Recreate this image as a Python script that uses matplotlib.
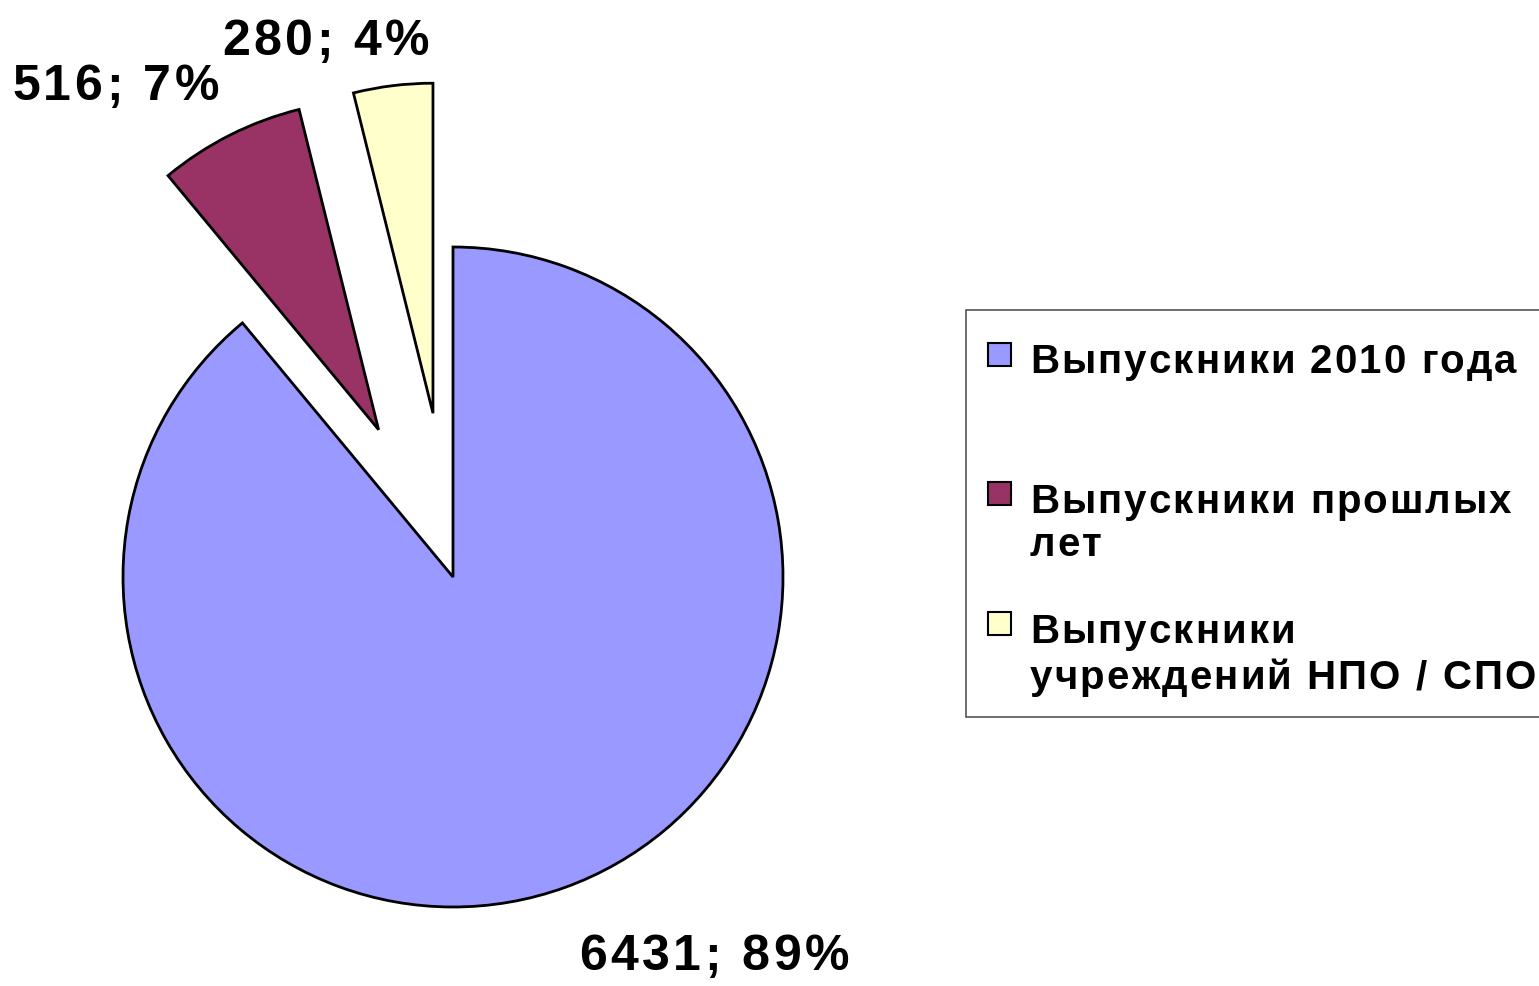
import matplotlib.pyplot as plt
from matplotlib.patches import Rectangle
from matplotlib.font_manager import FontProperties

# data
categories = ['Выпускники 2010 года', 'Выпускники прошлых\nлет',
              'Выпускники\nучреждений НПО / СПО']
values = [6431, 516, 280]
percents = [89, 7, 4]
colors = ['#9999FF', '#993366', '#FFFFCC']
explode = [0, 0.5, 0.5]

W, H = 1539, 986
cx, cy, R = 453, 577, 330  # pie centre / radius in pixels

plt.rcParams['font.family'] = ['Liberation Sans', 'DejaVu Sans']

fig = plt.figure(figsize=(W / 100, H / 100), dpi=100)
ax = fig.add_axes([0, 0, 1, 1])

ax.pie(values, colors=colors, explode=explode, startangle=90, counterclock=False,
       wedgeprops=dict(edgecolor='black', linewidth=2))
ax.set_aspect('auto')
ax.set_xlim(-cx / R, (W - cx) / R)
ax.set_ylim(-(H - cy) / R, cy / R)
ax.axis('off')

renderer = fig.canvas.get_renderer()

def fx(px):
    return px / W

def fy(py):
    return 1 - py / H

def spaced_text(x, y, s, size, spacing):
    # excel-style character spacing: place glyphs one by one
    fp = FontProperties(family='Liberation Sans', weight='bold', size=size)
    base = renderer.get_text_width_height_descent('HH', fp, ismath=False)[0]
    for ch in s:
        fig.text(fx(x), fy(y), ch, fontproperties=fp, ha='left', va='baseline', zorder=3)
        w = renderer.get_text_width_height_descent('H' + ch + 'H', fp, ismath=False)[0] - base
        x += w + spacing

# data labels
label_pos = [(579, 970), (12, 100), (222, 55)]
for v, p, (lx, ly) in zip(values, percents, label_pos):
    spaced_text(lx, ly, f'{v}; {p}%', 36, 3.5)

# legend box
fig.patches.append(Rectangle((fx(966), fy(717)), fx(600), 407 / H,
                             transform=fig.transFigure, facecolor='white',
                             edgecolor='#555555', linewidth=1.2, zorder=1))
sq = 23
legend_rows = [(343, [373]), (482, [513, 556]), (612, [643, 689])]
for name, col, (sy, baselines) in zip(categories, colors, legend_rows):
    fig.patches.append(Rectangle((fx(988), fy(sy + sq)), sq / W, sq / H,
                                 transform=fig.transFigure, facecolor=col,
                                 edgecolor='black', linewidth=1.5, zorder=2))
    for line, b in zip(name.split('\n'), baselines):
        spaced_text(1030, b, line, 29, 2.1)

fig.savefig('out.png', dpi=100)
